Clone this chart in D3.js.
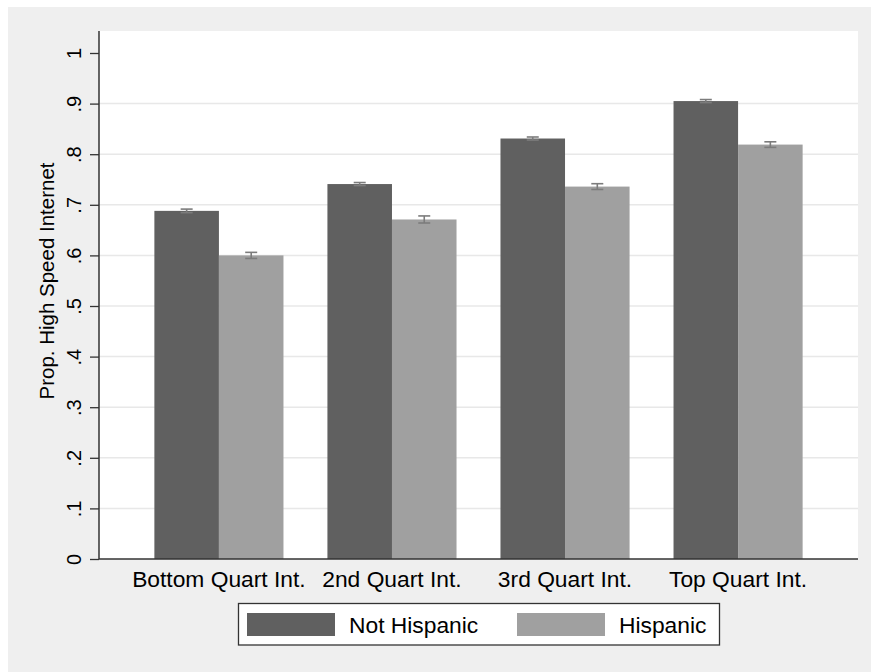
<!DOCTYPE html>
<html>
<head>
<meta charset="utf-8">
<script src="https://cdn.jsdelivr.net/npm/d3@7"></script>
<style>
  html, body { margin: 0; padding: 0; background: #ffffff; }
  svg { display: block; }
  text { font-family: "Liberation Sans", Arial, sans-serif; fill: #000; }
</style>
</head>
<body>
<svg id="chart" width="871" height="672"></svg>
<script>
// Quartile groups and the two series
const categories = ["Bottom Quart Int.", "2nd Quart Int.", "3rd Quart Int.", "Top Quart Int."];
const seriesNames = ["Not Hispanic", "Hispanic"];
const notHispanic = [0.688, 0.741, 0.831, 0.905];
const hispanic = [0.600, 0.671, 0.736, 0.819];
// Half-width of the confidence intervals
const notHispanicCI = [0.0035, 0.003, 0.003, 0.003];
const hispanicCI = [0.006, 0.007, 0.0057, 0.0055];
const yTicks = [0, 0.1, 0.2, 0.3, 0.4, 0.5, 0.6, 0.7, 0.8, 0.9, 1];
const yTickLabels = ["0", ".1", ".2", ".3", ".4", ".5", ".6", ".7", ".8", ".9", "1"];

const colors = ["#606060", "#a0a0a0"];

const svg = d3.select("#chart");
const W = 871, H = 672;

// outer graph region
svg.append("rect").attr("x", 8).attr("y", 7).attr("width", W - 8).attr("height", H - 7).attr("fill", "#efefef");

const plot = { left: 99, right: 858, top: 31, bottom: 559 };

// plot region background
svg.append("rect")
  .attr("x", plot.left).attr("y", plot.top)
  .attr("width", plot.right - plot.left).attr("height", plot.bottom - plot.top)
  .attr("fill", "#ffffff");

const y = d3.scaleLinear().domain([0, 1]).range([559, 53]);

const x0 = d3.scaleBand().domain(categories).range([plot.left, plot.right])
  .paddingInner(0.254).paddingOuter(0.32);
const x1 = d3.scaleBand().domain(seriesNames).range([0, x0.bandwidth()]);

// horizontal gridlines
svg.append("g").selectAll("line")
  .data(yTicks.filter(t => t > 0 && t < 1))
  .join("line")
  .attr("x1", plot.left).attr("x2", plot.right)
  .attr("y1", d => y(d)).attr("y2", d => y(d))
  .attr("stroke", "#e8e8e8").attr("stroke-width", 1.5);

const rows = categories.map((c, i) => ({
  cat: c,
  vals: [
    { s: seriesNames[0], v: notHispanic[i], ci: notHispanicCI[i], k: 0 },
    { s: seriesNames[1], v: hispanic[i], ci: hispanicCI[i], k: 1 }
  ]
}));

const groups = svg.append("g").selectAll("g")
  .data(rows).join("g")
  .attr("transform", d => `translate(${x0(d.cat)},0)`);

groups.selectAll("rect")
  .data(d => d.vals).join("rect")
  .attr("x", d => x1(d.s))
  .attr("width", x1.bandwidth())
  .attr("y", d => y(d.v))
  .attr("height", d => y(0) - y(d.v))
  .attr("fill", d => colors[d.k]);

// confidence interval whiskers
const capHalf = 6;
const ci = groups.selectAll("g.ci")
  .data(d => d.vals).join("g").attr("class", "ci")
  .attr("stroke", "#7c7c7c").attr("stroke-width", 1.6).attr("fill", "none");
ci.append("line")
  .attr("x1", d => x1(d.s) + x1.bandwidth() / 2).attr("x2", d => x1(d.s) + x1.bandwidth() / 2)
  .attr("y1", d => y(d.v - d.ci)).attr("y2", d => y(d.v + d.ci));
ci.append("line")
  .attr("x1", d => x1(d.s) + x1.bandwidth() / 2 - capHalf).attr("x2", d => x1(d.s) + x1.bandwidth() / 2 + capHalf)
  .attr("y1", d => y(d.v + d.ci)).attr("y2", d => y(d.v + d.ci));
ci.append("line")
  .attr("x1", d => x1(d.s) + x1.bandwidth() / 2 - capHalf).attr("x2", d => x1(d.s) + x1.bandwidth() / 2 + capHalf)
  .attr("y1", d => y(d.v - d.ci)).attr("y2", d => y(d.v - d.ci));

// y axis
const yAxis = d3.axisLeft(y).tickValues(yTicks)
  .tickFormat((d, i) => yTickLabels[i]).tickSize(9).tickPadding(6);
const gy = svg.append("g").attr("transform", `translate(${plot.left},0)`).call(yAxis);
gy.select(".domain").attr("d", `M0,${plot.top}V${plot.bottom}`).attr("stroke", "#333").attr("stroke-width", 1.5);
gy.selectAll(".tick line").attr("stroke", "#333").attr("stroke-width", 1.3);
gy.selectAll(".tick text")
  .attr("font-size", 20).attr("font-family", "Liberation Sans, Arial, sans-serif")
  .attr("fill", "#000")
  .attr("x", 0).attr("y", 0).attr("dy", 0)
  .attr("text-anchor", "middle")
  .attr("transform", "translate(-18,0) rotate(-90)");

// x axis
svg.append("line")
  .attr("x1", plot.left).attr("x2", plot.right)
  .attr("y1", plot.bottom).attr("y2", plot.bottom)
  .attr("stroke", "#333").attr("stroke-width", 1.5);
svg.append("g").selectAll("text")
  .data(categories).join("text")
  .attr("x", d => x0(d) + x0.bandwidth() / 2)
  .attr("y", 587)
  .attr("text-anchor", "middle")
  .attr("font-size", 22.8)
  .text(d => d);

// y axis title
svg.append("text")
  .attr("transform", "translate(54,281) rotate(-90)")
  .attr("text-anchor", "middle")
  .attr("font-size", 20.5)
  .text("Prop. High Speed Internet");

// legend
const lg = svg.append("g");
lg.append("rect").attr("x", 238.5).attr("y", 603.5).attr("width", 481).attr("height", 41.5)
  .attr("fill", "#ffffff").attr("stroke", "#333").attr("stroke-width", 1.3);
const legendItems = [
  { name: seriesNames[0], sx: 247, tx: 349 },
  { name: seriesNames[1], sx: 517, tx: 619 }
];
lg.selectAll("rect.sw").data(legendItems).join("rect").attr("class", "sw")
  .attr("x", d => d.sx).attr("y", 613).attr("width", 88).attr("height", 23)
  .attr("fill", (d, i) => colors[i]);
lg.selectAll("text").data(legendItems).join("text")
  .attr("x", d => d.tx).attr("y", 633)
  .attr("font-size", 22.8)
  .text(d => d.name);
</script>
</body>
</html>
